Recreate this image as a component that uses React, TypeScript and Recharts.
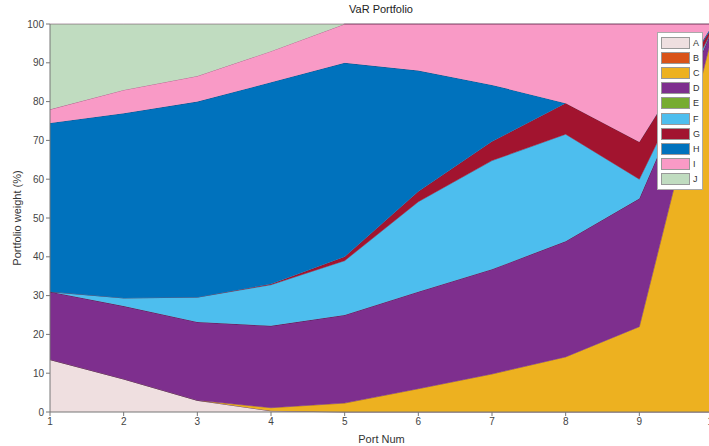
import React from "react"
import { Area, AreaChart, XAxis, YAxis } from "recharts"

const portNums = [1, 2, 3, 4, 5, 6, 7, 8, 9, 10]
const assetA = [13.5, 8.5, 3, 0.3, 0, 0, 0, 0, 0, 0]
const assetB = [0, 0, 0, 0, 0, 0, 0, 0, 0, 0]
const assetC = [0, 0, 0, 0.8, 2.3, 6, 9.8, 14.2, 22, 98]
const assetD = [17.5, 18.8, 20.2, 21.1, 22.7, 25, 27, 29.8, 33, 1]
const assetE = [0, 0, 0, 0, 0, 0, 0, 0, 0, 0]
const assetF = [0, 2.1, 6.4, 10.6, 14, 23.2, 28, 27.6, 5, 0]
const assetG = [0, 0, 0, 0.2, 1, 2.6, 4.9, 8, 9.6, 0.5]
const assetH = [43.5, 47.6, 50.4, 52, 50, 31.2, 14.6, 0, 0, 0.5]
const assetI = [3.5, 6, 6.6, 8, 10, 12, 15.7, 20.4, 30.4, 0]
const assetJ = [22, 17, 13.4, 7, 0, 0, 0, 0, 0, 0]

const yTicks = [0, 10, 20, 30, 40, 50, 60, 70, 80, 90, 100]

const seriesNames = ["A", "B", "C", "D", "E", "F", "G", "H", "I", "J"]
const seriesValues = [assetA, assetB, assetC, assetD, assetE, assetF, assetG, assetH, assetI, assetJ]
const colors = [
  "#efdfe0",
  "#d95319",
  "#edb120",
  "#7e2f8e",
  "#77ac30",
  "#4dbeee",
  "#a2142f",
  "#0072bd",
  "#f99ac6",
  "#c0dcc0"
]

const data = portNums.map((p, i) => {
  const row: Record<string, number> = { port: p }
  seriesNames.forEach((name, k) => {
    row[name] = seriesValues[k][i]
  })
  return row
})

const font = "'Liberation Sans', Arial, sans-serif"

function LegendBox() {
  return (
    <div
      style={{
        position: "absolute",
        left: 657,
        top: 32,
        background: "#fff",
        border: "1px solid #aaa",
        padding: "2px 2px 2px 3px",
        fontFamily: font,
        fontSize: 9,
        color: "#333"
      }}>
      {seriesNames.map((name, k) => (
        <div key={name} style={{ display: "flex", alignItems: "center", height: 15.2 }}>
          <div
            style={{
              width: 27,
              height: 10,
              background: colors[k],
              border: "1px solid #999",
              marginRight: 3
            }}
          />
          <span style={{ width: 7 }}>{name}</span>
        </div>
      ))}
    </div>
  )
}

export default function App() {
  return (
    <div
      style={{
        position: "absolute",
        left: 0,
        top: 0,
        width: 709,
        height: 446,
        overflow: "hidden",
        background: "#fff"
      }}>
      <div
        style={{
          position: "absolute",
          top: 3,
          left: 0,
          width: 762,
          textAlign: "center",
          fontFamily: font,
          fontSize: 11,
          color: "#222"
        }}>
        VaR Portfolio
      </div>
      <AreaChart
        width={760}
        height={446}
        data={data}
        margin={{ top: 24, right: 47, left: 20, bottom: 0 }}>
        <XAxis
          dataKey="port"
          type="number"
          domain={[1, 10]}
          ticks={portNums}
          interval={0}
          height={34}
          tickSize={4}
          stroke="#777"
          tick={{ fill: "#444", fontSize: 10, fontFamily: font }}
          label={{
            value: "Port Num",
            position: "insideBottom",
            offset: 3,
            fill: "#333",
            fontSize: 11,
            fontFamily: font
          }}
        />
        <XAxis
          xAxisId="top"
          orientation="top"
          dataKey="port"
          type="number"
          domain={[1, 10]}
          ticks={portNums}
          height={0}
          tick={false}
          stroke="#777"
        />
        <YAxis
          type="number"
          domain={[0, 100]}
          ticks={yTicks}
          interval={0}
          width={30}
          tickSize={4}
          stroke="#777"
          tick={{ fill: "#444", fontSize: 10, fontFamily: font }}
          label={{
            value: "Portfolio weight (%)",
            angle: -90,
            position: "insideLeft",
            offset: -3,
            fill: "#333",
            fontSize: 11,
            fontFamily: font,
            style: { textAnchor: "middle" }
          }}
        />
        {seriesNames.map((name, k) => (
          <Area
            key={name}
            type="linear"
            dataKey={name}
            stackId="w"
            fill={colors[k]}
            fillOpacity={1}
            stroke="#4a1838"
            strokeOpacity={0.55}
            strokeWidth={0.8}
            isAnimationActive={false}
          />
        ))}
      </AreaChart>
      <LegendBox />
    </div>
  )
}
